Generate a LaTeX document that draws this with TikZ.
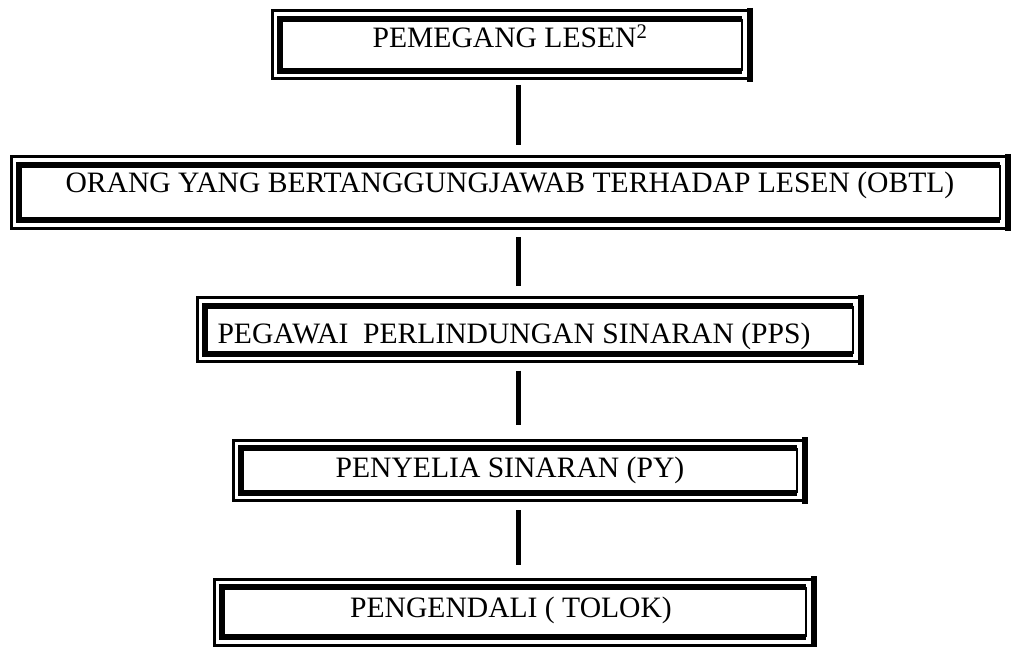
\documentclass[tikz,border=0pt]{standalone}
\usepackage{fontspec}
\setmainfont{Liberation Serif}
\begin{document}
\begin{tikzpicture}[x=1pt,y=-1pt,
  boxframe/.style={minimum width=#1, inner sep=0pt, outer sep=0pt},
  thickb/.style={line width=6pt, line join=miter},
  thinb/.style={line width=3pt, line join=miter},
  conn/.style={line width=5pt, shorten <=15pt, shorten >=20pt},
  lbl/.style={anchor=base, inner sep=0pt, font=\fontsize{29.6}{34}\selectfont}]
\useasboundingbox (0,0) rectangle (1011,647);
\newcommand\triframe[1]{%
  \draw[thickb] (#1.north east) -- (#1.north west) -- (#1.south west) -- (#1.south east);
  \draw[line width=2.5pt] (#1.north east) -- (#1.south east);
  \draw[thinb] ([shift={(8,-8)}]#1.north east) -- ([shift={(-8,-8)}]#1.north west) -- ([shift={(-8,8)}]#1.south west) -- ([shift={(8,8)}]#1.south east);
  \draw[line width=6.5pt] ([shift={(8,-11)}]#1.north east) -- ([shift={(8,11)}]#1.south east);
}
% boxes (inner frame rectangles)
\node[boxframe=462pt, minimum height=52pt] (b1) at (511,45) {};
\node[boxframe=981pt, minimum height=55pt] (b2) at (509.5,192.5) {};
\node[boxframe=648pt, minimum height=48pt] (b3) at (529,329.5) {};
\node[boxframe=556pt, minimum height=44.5pt] (b4) at (519,470.25) {};
\node[boxframe=584pt, minimum height=50pt] (b5) at (514,612) {};
\triframe{b1}
\triframe{b2}
\triframe{b3}
\triframe{b4}
\triframe{b5}
% texts
\node[lbl] (t1) at (510,48) {PEMEGANG LESEN\textsuperscript{2}};
\node[lbl] (t2) at (510,193) {ORANG YANG BERTANGGUNGJAWAB TERHADAP LESEN (OBTL)};
\node[lbl] (t3) at (514,343) {PEGAWAI\ \ PERLINDUNGAN SINARAN (PPS)};
\node[lbl] (t4) at (510,477) {PENYELIA SINARAN (PY)};
\node[lbl] (t5) at (511,617) {PENGENDALI ( TOLOK)};
% connectors
\coordinate (lx) at (518.5,0);
\draw[conn, shorten <=14pt, shorten >=20pt] (b1.south -| lx) -- (b2.north -| lx);
\draw[conn, shorten <=17pt, shorten >=20pt] (b2.south -| lx) -- (b3.north -| lx);
\draw[conn, shorten <=17pt, shorten >=23pt] (b3.south -| lx) -- (b4.north -| lx);
\draw[conn, shorten <=17.5pt, shorten >=22pt] (b4.south -| lx) -- (b5.north -| lx);
\end{tikzpicture}
\end{document}
